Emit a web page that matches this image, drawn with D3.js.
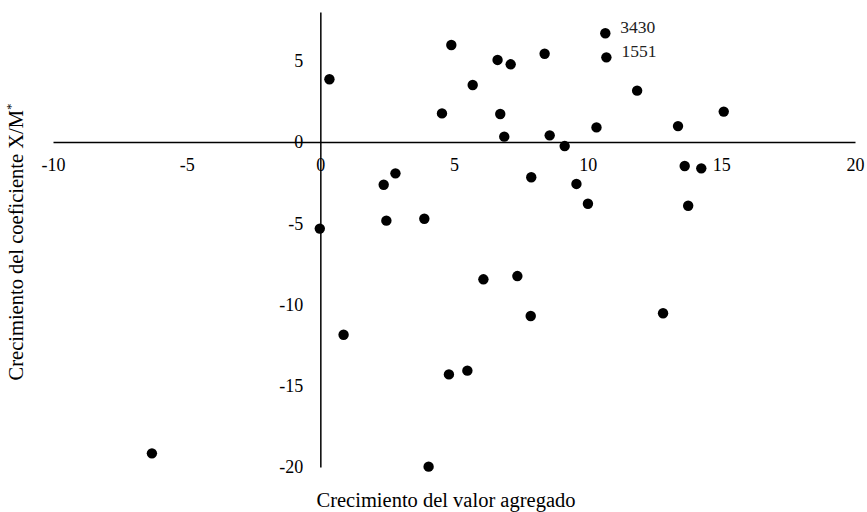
<!DOCTYPE html>
<html>
<head>
<meta charset="utf-8">
<script src="https://cdn.jsdelivr.net/npm/d3@7"></script>
<style>
  html, body { margin: 0; padding: 0; background: #fff; }
  svg { display: block; font-family: "Liberation Serif", "Times New Roman", serif; }
</style>
</head>
<body>
<svg id="chart" width="867" height="512"></svg>
<script>
// Crecimiento del valor agregado (x) vs Crecimiento del coeficiente X/M (y)
const xValues = [0.34, 4.90, 6.63, 7.12, 8.39, 5.70, 4.55, 6.73, 10.33, 6.88, 8.58, 9.14,
                 10.66, 10.70, 11.85, 13.38, 15.09, 13.63, 14.25, 13.76, 10.01, 9.58, 7.89,
                 3.89, 2.47, 2.37, 2.81, -0.02, 0.87, 6.10, 7.37, 7.87, 12.82, 4.81, 5.50,
                 4.05, -6.30];
const yValues = [3.86, 5.97, 5.05, 4.78, 5.43, 3.51, 1.76, 1.72, 0.90, 0.33, 0.41, -0.25,
                 6.69, 5.21, 3.16, 0.98, 1.87, -1.48, -1.62, -3.92, -3.80, -2.58, -2.17,
                 -4.72, -4.84, -2.63, -1.93, -5.33, -11.86, -8.45, -8.25, -10.71, -10.54,
                 -14.30, -14.07, -19.98, -19.16];
const pointLabels = ["", "", "", "", "", "", "", "", "", "", "", "",
                     "3430", "1551", "", "", "", "", "", "", "", "", "",
                     "", "", "", "", "", "", "", "", "", "", "", "", "", ""];
const xTicks = [-10, -5, 0, 5, 10, 15, 20];
const yTicks = [-20, -15, -10, -5, 0, 5];
const xTitle = "Crecimiento del valor agregado";
const yTitle = "Crecimiento del coeficiente X/M";

const data = xValues.map((x, i) => ({ x, y: yValues[i], label: pointLabels[i] }));

const svg = d3.select("#chart");
const x = d3.scaleLinear().domain([-10, 20]).range([53, 855]);
const y = d3.scaleLinear().domain([-20, 8]).range([467, 12]);

const fs = 18;
const tfs = 20.5;

// X axis crossing at y = 0
const gx = svg.append("g")
  .attr("transform", `translate(0,${y(0)})`)
  .call(d3.axisBottom(x).tickValues(xTicks).tickSize(0).tickPadding(16).tickFormat(d3.format("d")));
gx.select(".domain").attr("stroke", "#000").attr("stroke-width", 1.5);
gx.selectAll("text").attr("font-size", fs).attr("font-family", "Liberation Serif").attr("fill", "#000");

// Y axis crossing at x = 0
const gy = svg.append("g")
  .attr("transform", `translate(${x(0)},0)`)
  .call(d3.axisLeft(y).tickValues(yTicks).tickSize(0).tickPadding(17).tickFormat(d3.format("d")));
gy.select(".domain").attr("stroke", "#000").attr("stroke-width", 1.5);
gy.selectAll("text").attr("font-size", fs).attr("font-family", "Liberation Serif").attr("fill", "#000");

// minus signs as plain hyphen like reference
svg.selectAll(".tick text").text(function() { return d3.select(this).text().replace("\u2212", "-"); });

// Points
svg.append("g").selectAll("circle").data(data).join("circle")
  .attr("cx", d => x(d.x))
  .attr("cy", d => y(d.y))
  .attr("r", 5.2)
  .attr("fill", "#000");

// Data labels
svg.append("g").selectAll("text").data(data.filter(d => d.label)).join("text")
  .attr("x", d => x(d.x) + 15)
  .attr("y", d => y(d.y) + 0)
  .attr("font-size", 17.5)
  .attr("font-family", "Liberation Serif")
  .attr("fill", "#222")
  .text(d => d.label);

// Axis titles
svg.append("text")
  .attr("x", 446).attr("y", 507)
  .attr("text-anchor", "middle")
  .attr("font-size", tfs)
  .attr("font-family", "Liberation Serif")
  .attr("fill", "#000")
  .text(xTitle);

const yt = svg.append("text")
  .attr("transform", "translate(23,242) rotate(-90)")
  .attr("text-anchor", "middle")
  .attr("font-size", tfs)
  .attr("font-family", "Liberation Serif")
  .attr("fill", "#000");
yt.append("tspan").text(yTitle);
yt.append("tspan").attr("font-size", 13).attr("dy", -8).text("*");
</script>
</body>
</html>
